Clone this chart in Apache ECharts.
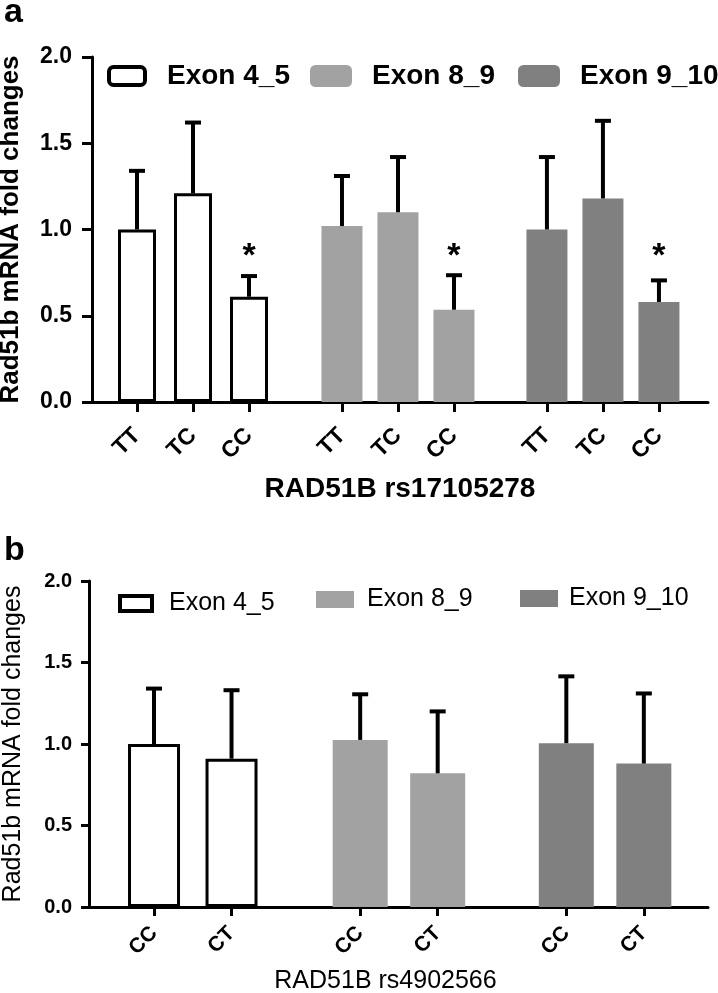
<!DOCTYPE html>
<html><head><meta charset="utf-8">
<script src="https://cdn.jsdelivr.net/npm/echarts@6/dist/echarts.min.js"></script>
<style>html,body{margin:0;padding:0;background:#fff}#c{width:718px;height:993px}</style>
</head><body><div id="c"></div>
<script>
// ---------- data ----------
const seriesNames = ['Exon 4_5', 'Exon 8_9', 'Exon 9_10'];
const yTicks = [0, 0.5, 1.0, 1.5, 2.0];

// Panel a: RAD51B rs17105278
const genotypesA = ['TT', 'TC', 'CC'];
const exon45A = [1.00, 1.21, 0.61];
const exon45AErr = [0.34, 0.41, 0.12];
const exon89A = [1.02, 1.10, 0.535];
const exon89AErr = [0.29, 0.32, 0.20];
const exon910A = [1.00, 1.18, 0.58];
const exon910AErr = [0.42, 0.45, 0.125];
const sigA = ['', '', '*'];

// Panel b: RAD51B rs4902566
const genotypesB = ['CC', 'CT'];
const exon45B = [1.00, 0.91];
const exon45BErr = [0.34, 0.42];
const exon89B = [1.025, 0.82];
const exon89BErr = [0.28, 0.38];
const exon910B = [1.005, 0.88];
const exon910BErr = [0.41, 0.43];

// ---------- layout / style ----------
const FONT = '"Liberation Sans", Arial, sans-serif';
const fills = ['#ffffff', '#a2a2a2', '#808080'];
const groupStepA = 3.66, groupStepB = 2.66;
const sigLevel = 0.845;

const valsA = [exon45A, exon89A, exon910A];
const errsA = [exon45AErr, exon89AErr, exon910AErr];
const valsB = [exon45B, exon89B, exon910B];
const errsB = [exon45BErr, exon89BErr, exon910BErr];

const posA = (g, i) => g * groupStepA + i;
const posB = (g, i) => g * groupStepB + i;

function ticksFor(nGroups, cats, pos) {
  const out = [];
  for (let g = 0; g < nGroups; g++) cats.forEach((_, i) => out.push(pos(g, i)));
  return out;
}
const tickA = ticksFor(3, genotypesA, posA);
const tickB = ticksFor(3, genotypesB, posB);
function labeler(cats, pos) {
  return v => {
    for (let g = 0; g < 3; g++) for (let i = 0; i < cats.length; i++)
      if (Math.abs(pos(g, i) - v) < 1e-6) return cats[i];
    return '';
  };
}

function xAxisCfg(grid, min, max, ticks, cats, pos, show, opts) {
  return {
    type: 'value', gridIndex: grid, min: min, max: max, show: show,
    splitLine: { show: false },
    axisLine: { show: true, onZero: false, lineStyle: { color: '#000', width: 3 } },
    axisTick: { show: true, customValues: ticks, length: opts.tickLen, lineStyle: { color: '#000', width: 3 } },
    axisLabel: {
      show: true, customValues: ticks, formatter: labeler(cats, pos), rotate: 45,
      margin: opts.labelMargin, color: '#000', fontFamily: FONT, fontWeight: 'bold', fontSize: opts.labelSize
    },
    name: opts.name, nameLocation: 'middle', nameGap: opts.nameGap,
    nameTextStyle: { color: '#000', fontFamily: FONT, fontWeight: opts.nameWeight, fontSize: opts.nameSize,
                     padding: opts.namePad || 0 }
  };
}
function yAxisCfg(grid, opts) {
  return {
    type: 'value', gridIndex: grid, min: yTicks[0], max: yTicks[yTicks.length - 1],
    interval: yTicks[1] - yTicks[0],
    splitLine: { show: false },
    axisLine: { show: true, onZero: false, lineStyle: { color: '#000', width: 3 } },
    axisTick: { show: true, length: opts.tickLen, lineStyle: { color: '#000', width: 3 } },
    axisLabel: {
      formatter: v => v.toFixed(1), margin: opts.labelMargin, color: '#000',
      fontFamily: FONT, fontWeight: 'bold', fontSize: opts.labelSize
    },
    name: 'Rad51b mRNA fold changes', nameLocation: 'middle', nameGap: opts.nameGap,
    nameTextStyle: { color: '#000', fontFamily: FONT, fontWeight: opts.nameWeight, fontSize: opts.nameSize }
  };
}

function barSeries(vals, cats, pos, xA, xB, yIdx, w) {
  return vals.map((arr, g) => ({
    type: 'bar', name: seriesNames[g],
    xAxisIndex: g === 0 ? xA : xB, yAxisIndex: yIdx,
    barWidth: g === 0 ? w - 3 : w, barGap: '-100%',
    itemStyle: g === 0 ? { color: fills[0], borderColor: '#000', borderWidth: 3 } : { color: fills[g] },
    data: cats.map((_, i) => [pos(g, i), arr[i]]),
    silent: true
  }));
}
function errorSeries(vals, errs, cats, pos, xA, yIdx, capHalf) {
  const data = [];
  vals.forEach((arr, g) => cats.forEach((_, i) => data.push([pos(g, i), arr[i], errs[g][i]])));
  return {
    type: 'custom', xAxisIndex: xA, yAxisIndex: yIdx, silent: true, z: 5,
    encode: { x: 0, y: [1, 2] },
    data: data,
    renderItem: (params, api) => {
      const x = api.value(0), m = api.value(1), e = api.value(2);
      const b = api.coord([x, m]);
      const t = api.coord([x, m + e]);
      const st = { stroke: '#000', lineWidth: 4 };
      return {
        type: 'group', children: [
          { type: 'line', shape: { x1: b[0], y1: b[1], x2: t[0], y2: t[1] }, style: st },
          { type: 'line', shape: { x1: t[0] - capHalf, y1: t[1], x2: t[0] + capHalf, y2: t[1] }, style: st }
        ]
      };
    }
  };
}
function sigSeries(cats, marks, pos, xA, yIdx) {
  const data = [], txt = [];
  for (let g = 0; g < 3; g++) cats.forEach((_, i) => {
    if (marks[i]) { data.push([pos(g, i), sigLevel]); txt.push(marks[i]); }
  });
  return {
    type: 'custom', xAxisIndex: xA, yAxisIndex: yIdx, silent: true, z: 6,
    data: data,
    renderItem: (params, api) => {
      const p = api.coord([api.value(0), api.value(1)]);
      return {
        type: 'text', x: p[0], y: p[1],
        style: { text: txt[params.dataIndex], align: 'center', verticalAlign: 'middle',
                 font: 'bold 34px ' + FONT, fill: '#000' }
      };
    }
  };
}

function legendCfg(name, left, top, w, h, icon, style, size, weight, pad) {
  return {
    left: left, top: top, padding: 0, itemWidth: w, itemHeight: h, selectedMode: false,
    data: [{ name: name, icon: icon, itemStyle: style }],
    textStyle: { color: '#000', fontFamily: FONT, fontSize: size, fontWeight: weight,
                 lineHeight: size, padding: [0, 0, 0, pad] }
  };
}

const option = {
  animation: false,
  backgroundColor: '#fff',
  grid: [
    { left: 92, right: 10, top: 57, height: 345, outerBoundsMode: 'none', containLabel: false },
    { left: 89, right: 10, top: 581, height: 326, outerBoundsMode: 'none', containLabel: false }
  ],
  xAxis: [
    xAxisCfg(0, -0.8036, 10.196, tickA, genotypesA, posA, true,
      { tickLen: 10, labelMargin: 30, labelSize: 23, name: 'RAD51B rs17105278', nameGap: 73, nameWeight: 'bold', nameSize: 28 }),
    xAxisCfg(0, -0.8036, 10.196, tickA, genotypesA, posA, false,
      { tickLen: 10, labelMargin: 30, labelSize: 23, name: '', nameGap: 0, nameWeight: 'normal', nameSize: 10 }),
    xAxisCfg(1, -0.839, 7.148, tickB, genotypesB, posB, true,
      { tickLen: 9, labelMargin: 23, labelSize: 21, name: 'RAD51B rs4902566', nameGap: 62, nameWeight: 'normal', nameSize: 25, namePad: [0, 26, 0, 0] }),
    xAxisCfg(1, -0.839, 7.148, tickB, genotypesB, posB, false,
      { tickLen: 9, labelMargin: 23, labelSize: 21, name: '', nameGap: 0, nameWeight: 'normal', nameSize: 10 })
  ],
  yAxis: [
    yAxisCfg(0, { tickLen: 10, labelMargin: 20, labelSize: 23, nameGap: 68, nameWeight: 'bold', nameSize: 26 }),
    yAxisCfg(1, { tickLen: 8, labelMargin: 17, labelSize: 20, nameGap: 63, nameWeight: 'normal', nameSize: 25 })
  ],
  legend: [
    legendCfg(seriesNames[0], 107, 62, 36, 18, 'roundRect', { color: '#fff', borderColor: '#000', borderWidth: 4 }, 28, 'bold', 17),
    legendCfg(seriesNames[1], 310, 62, 42, 22, 'roundRect', { color: fills[1], borderWidth: 0 }, 28, 'bold', 15),
    legendCfg(seriesNames[2], 518, 62, 42, 22, 'roundRect', { color: fills[2], borderWidth: 0 }, 28, 'bold', 15),
    legendCfg(seriesNames[0], 118, 591, 32, 15, 'rect', { color: '#fff', borderColor: '#000', borderWidth: 4 }, 25, 'normal', 12),
    legendCfg(seriesNames[1], 316, 587, 38, 17, 'rect', { color: fills[1], borderWidth: 0 }, 25, 'normal', 8),
    legendCfg(seriesNames[2], 520, 586, 38, 17, 'rect', { color: fills[2], borderWidth: 0 }, 25, 'normal', 6)
  ],
  graphic: [
    { type: 'text', x: 4, y: -4, style: { text: 'a', font: 'bold 34px ' + FONT, fill: '#000' } },
    { type: 'text', x: 4, y: 534, style: { text: 'b', font: 'bold 34px ' + FONT, fill: '#000' } }
  ],
  series: [].concat(
    barSeries(valsA, genotypesA, posA, 0, 1, 0, 41),
    [errorSeries(valsA, errsA, genotypesA, posA, 0, 0, 8),
     sigSeries(genotypesA, sigA, posA, 0, 0)],
    barSeries(valsB, genotypesB, posB, 2, 3, 1, 55),
    [errorSeries(valsB, errsB, genotypesB, posB, 2, 1, 8)]
  )
};
const chart = echarts.init(document.getElementById('c'));
chart.setOption(option);
</script>
</body></html>
